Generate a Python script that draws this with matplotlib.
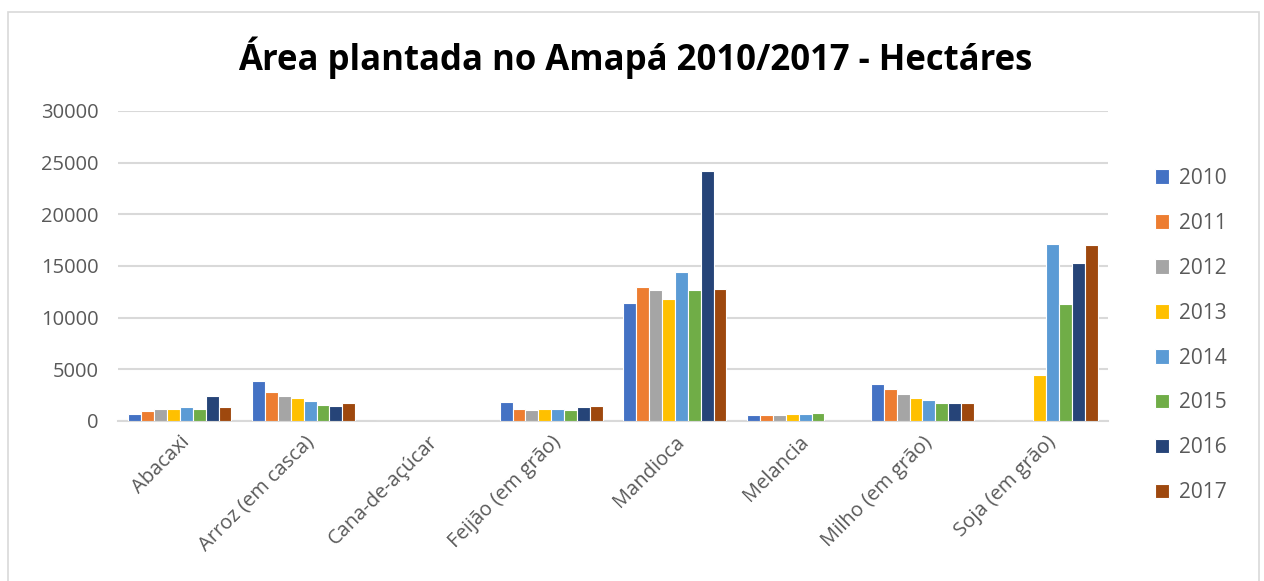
import numpy as np
import matplotlib
matplotlib.use("Agg")
import matplotlib.pyplot as plt
from matplotlib.patches import Rectangle

plt.rcParams["font.family"] = ["Open Sans", "DejaVu Sans"]

culturas = ["Abacaxi", "Arroz (em casca)", "Cana-de-açúcar", "Feijão (em grão)",
            "Mandioca", "Melancia", "Milho (em grão)", "Soja (em grão)"]
anos = ["2010", "2011", "2012", "2013", "2014", "2015", "2016", "2017"]

# área plantada (ha) por ano, na ordem de culturas
area = {
    "2010": [720, 3850, 0, 1840, 11400, 560, 3580, 0],
    "2011": [960, 2830, 0, 1200, 13000, 560, 3090, 0],
    "2012": [1180, 2460, 0, 1100, 12650, 560, 2600, 0],
    "2013": [1180, 2200, 0, 1200, 11800, 690, 2200, 4450],
    "2014": [1320, 1940, 0, 1200, 14400, 690, 2070, 17100],
    "2015": [1180, 1580, 0, 1050, 12650, 820, 1710, 11300],
    "2016": [2460, 1450, 0, 1350, 24200, 0, 1710, 15300],
    "2017": [1320, 1710, 0, 1450, 12800, 0, 1710, 17000],
}
cores = ["#4472C4", "#ED7D31", "#A5A5A5", "#FFC000",
         "#5B9BD5", "#70AD47", "#264478", "#9E480E"]

fig = plt.figure(figsize=(12.64, 5.81), dpi=100)
ax = fig.add_axes([0.0934, 0.2754, 0.7832, 0.5336])

x = np.arange(len(culturas))
w = 0.104
handles = []
for i, ano in enumerate(anos):
    off = (i - 3.5) * w
    b = ax.bar(x + off, area[ano], width=w, color=cores[i],
               edgecolor="white", linewidth=0.8, label=ano, zorder=3)
    handles.append(b)

ax.set_xlim(-0.5, len(culturas) - 0.5)
ax.set_ylim(0, 30000)
ax.set_yticks(np.arange(0, 30001, 5000))
ax.yaxis.grid(True, color="#d9d9d9", linewidth=1.5, zorder=0)
ax.set_axisbelow(True)
for s in ["top", "right", "left"]:
    ax.spines[s].set_visible(False)
ax.spines["bottom"].set_color("#d9d9d9")
ax.spines["bottom"].set_linewidth(1.5)
ax.tick_params(axis="both", length=0, labelsize=14.5, colors="#595959", pad=8)
ax.tick_params(axis="y", pad=14)
ax.set_xticks(x)
ax.set_xticklabels(culturas, rotation=45, ha="right", rotation_mode="anchor")

fig.text(0.5025, 0.9, "Área plantada no Amapá 2010/2017 - Hectáres",
         ha="center", va="center", fontsize=25, fontweight="bold", color="black")

fig.legend(handles=handles, labels=anos, loc="center left",
           bbox_to_anchor=(1136 / 1264, 0.4225), frameon=False,
           fontsize=15, labelcolor="#595959", labelspacing=1.15,
           handlelength=0.7, handleheight=0.7, handletextpad=0.45)

fig.patches.append(Rectangle((8 / 1264, -0.02), 1251 / 1264, 1.02 - 12 / 581,
                             transform=fig.transFigure, fill=False,
                             edgecolor="#d9d9d9", linewidth=1.2))

fig.savefig("out.png", dpi=100, facecolor="white")
